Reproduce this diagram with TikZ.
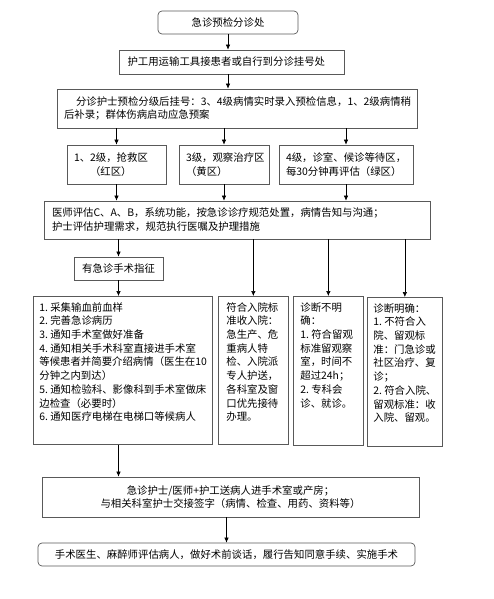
\documentclass[tikz,border=0pt]{standalone}
\usepackage{fontspec}
\setmainfont{Noto Sans CJK SC}
\usetikzlibrary{arrows.meta, positioning, calc}

\begin{document}
\begin{tikzpicture}[
        x=1pt, y=-1pt,
        font=\fontsize{10.4}{13.7}\selectfont,
        flowbox/.style={draw=black!65, line width=0.7pt, inner sep=0pt, align=center},
        roundbox/.style={flowbox, rounded corners=4pt},
        textbox/.style={draw=black!65, line width=0.7pt, anchor=north west, inner ysep=6pt},
        arr/.style={-{Latex[length=5pt,width=4.5pt]}, line width=0.6pt, color=black}
      ]
        \useasboundingbox (0,0) rectangle (493,599);

        \node[roundbox, minimum width=140pt, minimum height=23pt] (triage) at (228,22.5) {急诊预检分诊处};
        \node[flowbox, minimum width=225pt, minimum height=24pt, text width=209pt, align=left] (transport) at (232,62) {护工用运输工具接患者或自行到分诊挂号处};
        \node[flowbox, minimum width=360pt, minimum height=39pt, text width=346pt, align=left] (register) at (237,108.5)
          {\hspace*{12pt}分诊护士预检分级后挂号：3、4级病情实时录入预检信息，1、2级病情稍\\后补录；群体伤病启动应急预案};

        \node[flowbox, minimum width=99pt, minimum height=39pt, text width=85pt, align=left] (redzone) at (116.5,164.5) {1、2级，抢救区\\\hspace*{16pt}（红区）};
        \node[flowbox, minimum width=90pt, minimum height=39pt, text width=76pt, align=left] (yellowzone) at (224,164.5) {3级，观察治疗区\\（黄区）};
        \node[flowbox, minimum width=134pt, minimum height=39pt, text width=120pt, align=left] (greenzone) at (346,164.5) {4级，诊室、候诊等待区，\\每30分钟再评估（绿区）};

        \node[flowbox, minimum width=386pt, minimum height=38pt, text width=370pt, align=left] (assess) at (237,220)
          {医师评估C、A、B，系统功能，按急诊诊疗规范处置，病情告知与沟通；\\护士评估护理需求，规范执行医嘱及护理措施};

        \node[flowbox, minimum width=89pt, minimum height=23pt] (surgsign) at (118.5,268.5) {有急诊手术指征};

        % four columns below the assessment
        \node[textbox, inner xsep=6pt] (surgprep) at (33,296) {\parbox[c][136pt][t]{167pt}{\raggedright
          1.~采集输血前血样\\2.~完善急诊病历\\3.~通知手术室做好准备\\4.~通知相关手术科室直接进手术室\\等候患者并简要介绍病情（医生在10\\分钟之内到达）\\5.~通知检验科、影像科到手术室做床\\边检查（必要时）\\6.~通知医疗电梯在电梯口等候病人}};
        \node[textbox, inner xsep=8pt] (admit) at (218,296) {\parbox[c][136pt][t]{54pt}{\raggedright
          符合入院标\\准收入院：\\急生产、危\\重病人特\\检、入院派\\专人护送，\\各科室及窗\\口优先接待\\办理。}};
        \node[textbox, inner xsep=7pt] (observe) at (293,296) {\parbox[c][137pt][t]{56pt}{\raggedright
          诊断不明\\确：\\1.~符合留观\\标准留观察\\室，时间不\\超过24h；\\2.~专科会\\诊、就诊。}};
        \node[textbox, inner xsep=6pt] (diagnosed) at (367,297) {\parbox[c][137pt][t]{63pt}{\raggedright
          诊断明确：\\1.~不符合入\\院、留观标\\准：门急诊或\\社区治疗、复\\诊；\\2.~符合入院、\\留观标准：收\\入院、留观。}};

        \node[flowbox, minimum width=377pt, minimum height=40pt] (handover) at (230.5,497)
          {急诊护士/医师+护工送病人进手术室或产房；\\与相关科室护士交接签字（病情、检查、用药、资料等）};
        \node[roundbox, minimum width=377pt, minimum height=23pt] (operate) at (226.5,554.5)
          {手术医生、麻醉师评估病人，做好术前谈话，履行告知同意手续、实施手术};

        \draw[arr] (triage.south) -- (triage.south |- transport.north);
        \draw[arr] (triage |- transport.south) -- (triage |- register.north);

        \draw[arr] (redzone |- register.south) -- (redzone.north);
        \draw[arr] (yellowzone |- register.south) -- (yellowzone.north);
        \draw[arr] (greenzone |- register.south) -- (greenzone.north);

        \draw[arr] (redzone.south) -- (redzone |- assess.north);
        \draw[arr] (yellowzone.south) -- (yellowzone |- assess.north);
        \draw[arr] (greenzone.south) -- (greenzone |- assess.north);

        \draw[arr] (surgsign |- assess.south) -- (surgsign.north);
        \draw[arr] (admit |- assess.south) -- (admit.north);
        \draw[arr] (observe |- assess.south) -- (observe.north);
        \draw[arr] (diagnosed |- assess.south) -- (diagnosed.north);

        \draw[arr] (surgsign.south) -- (surgsign |- surgprep.north);
        \draw[arr] (surgsign |- surgprep.south) -- (surgsign |- handover.north);
        \draw[arr] (operate |- handover.south) -- (operate.north);
      \end{tikzpicture}
\end{document}
